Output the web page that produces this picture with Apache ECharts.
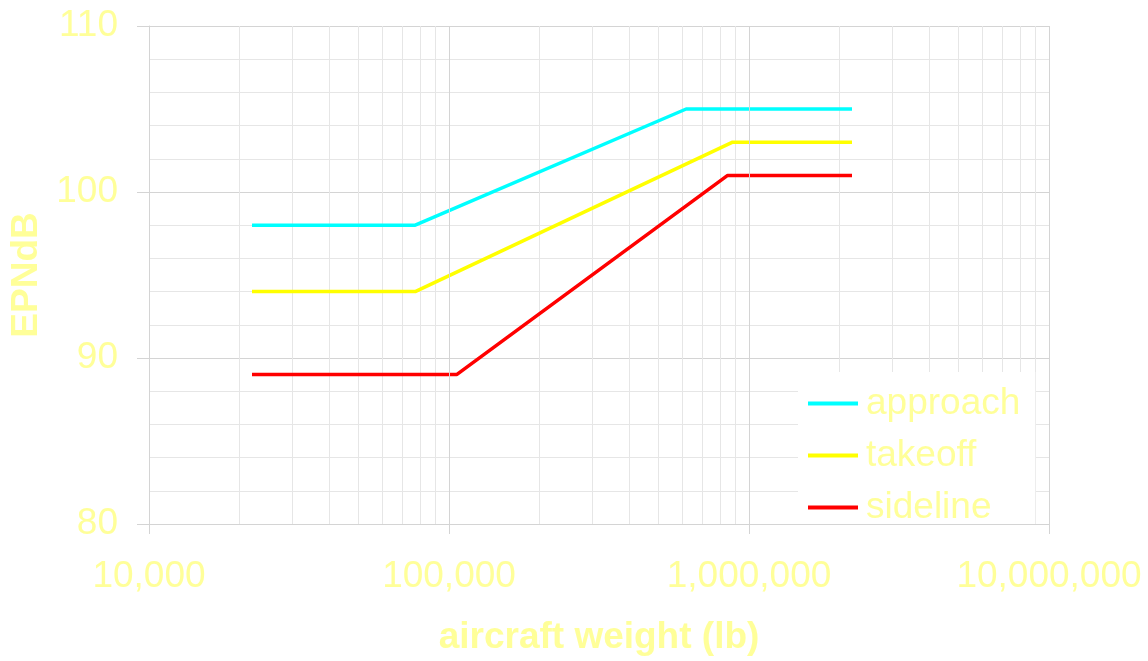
<!DOCTYPE html>
<html>
<head>
<meta charset="utf-8">
<script src="https://cdn.jsdelivr.net/npm/echarts@6/dist/echarts.min.js"></script>
<style>
  html, body { margin: 0; padding: 0; background: #ffffff; overflow: hidden; }
  #chart { width: 1148px; height: 661px; }
</style>
</head>
<body>
<div id="chart"></div>
<script>
// Noise limit curves: EPNdB against aircraft weight (lb), log scale
const seriesNames = ['approach', 'takeoff', 'sideline'];
const approachPoints = [[22050, 98], [77160, 98], [617300, 105], [2205000, 105]];
const takeoffPoints  = [[22050, 94], [77160, 94], [881850, 103], [2205000, 103]];
const sidelinePoints = [[22050, 89], [106040, 89], [848780, 101], [2205000, 101]];
const seriesColors = ['#00ffff', '#ffff00', '#ff0000'];

// Intermediate log-decade grid positions (2..9 of each decade)
const minorWeights = [
  20000, 30000, 40000, 50000, 60000, 70000, 80000, 90000,
  200000, 300000, 400000, 500000, 600000, 700000, 800000, 900000,
  2000000, 3000000, 4000000, 5000000, 6000000, 7000000, 8000000, 9000000
];

const textColor = '#ffff99';
const fontFamily = '"Liberation Sans", Arial, sans-serif';

const chart = echarts.init(document.getElementById('chart'), null, { renderer: 'canvas', width: 1148, height: 661 });

const lineSeries = [approachPoints, takeoffPoints, sidelinePoints].map((pts, i) => ({
  name: seriesNames[i],
  type: 'line',
  data: pts,
  showSymbol: false,
  symbol: 'none',
  lineStyle: { color: seriesColors[i], width: 3.5 },
  itemStyle: { color: seriesColors[i] },
  z: 5,
  animation: false
}));

const gridSeries = {
  name: 'minor-grid',
  type: 'line',
  data: [],
  silent: true,
  z: 1,
  markLine: {
    silent: true,
    symbol: 'none',
    label: { show: false },
    lineStyle: { color: '#e6e6e6', width: 1, type: 'solid' },
    data: minorWeights.map(v => ({ xAxis: v })),
    animation: false
  }
};

chart.setOption({
  animation: false,
  backgroundColor: '#ffffff',
  grid: { left: 149, top: 26, width: 900, height: 504, containLabel: false },
  xAxis: {
    type: 'log',
    logBase: 10,
    min: 10000,
    max: 10000000,
    name: 'aircraft weight (lb)',
    nameLocation: 'middle',
    nameGap: 95,
    nameTextStyle: { color: textColor, fontSize: 37, fontWeight: 'bold', fontFamily: fontFamily },
    axisLine: { show: true, lineStyle: { color: '#d4d4d4', width: 1 } },
    axisTick: { show: true, length: 10, lineStyle: { color: '#d4d4d4' } },
    axisLabel: {
      color: textColor, fontSize: 37, fontFamily: fontFamily, margin: 34,
      formatter: v => Math.round(v).toLocaleString('en-US')
    },
    splitLine: { show: true, lineStyle: { color: '#d4d4d4', width: 1 } },
    z: 30
  },
  yAxis: {
    type: 'value',
    min: 80,
    max: 110,
    interval: 10,
    name: 'EPNdB',
    nameLocation: 'middle',
    nameGap: 104,
    nameRotate: 90,
    nameTextStyle: { color: textColor, fontSize: 37, fontWeight: 'bold', fontFamily: fontFamily },
    axisLine: { show: true, lineStyle: { color: '#d4d4d4', width: 1 } },
    axisTick: { show: true, length: 12, lineStyle: { color: '#d4d4d4' } },
    axisLabel: { color: textColor, fontSize: 37, fontFamily: fontFamily, margin: 31 },
    splitLine: { show: true, lineStyle: { color: '#d4d4d4', width: 1 } },
    minorTick: { show: false, splitNumber: 5 },
    minorSplitLine: { show: true, lineStyle: { color: '#e6e6e6', width: 1 } }
  },
  legend: {
    orient: 'vertical',
    left: 798,
    top: 372,
    z: 20,
    data: seriesNames,
    icon: 'rect',
    itemWidth: 50,
    itemHeight: 4,
    itemGap: 15,
    padding: [13, 15, 0, 10],
    backgroundColor: '#ffffff',
    textStyle: { color: textColor, fontSize: 37, fontFamily: fontFamily, padding: [0, 0, 0, 3] }
  },
  series: [gridSeries, ...lineSeries]
});
</script>
</body>
</html>
